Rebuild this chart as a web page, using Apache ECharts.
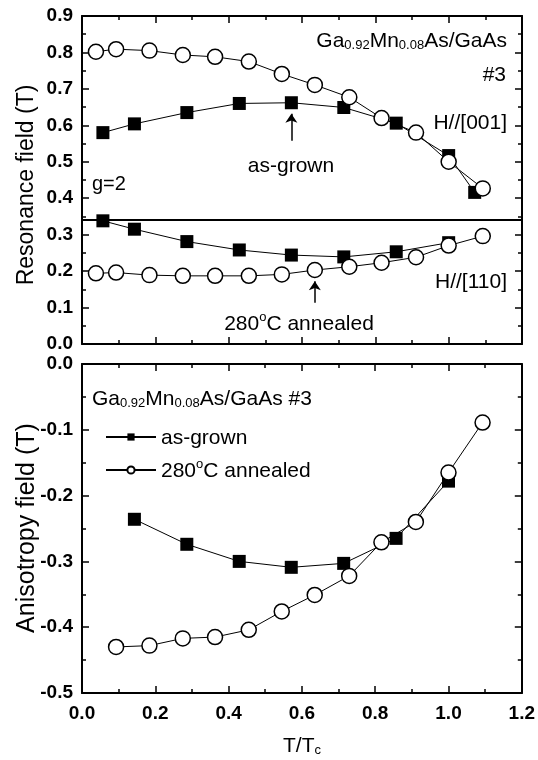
<!DOCTYPE html>
<html>
<head>
<meta charset="utf-8">
<script src="https://cdn.jsdelivr.net/npm/echarts@6/dist/echarts.min.js"></script>
<style>
html,body{margin:0;padding:0;background:#fff;}
#c{width:538px;height:760px;}
</style>
</head>
<body>
<div id="c"></div>
<script>
// ---- data ----
var xTicks = [0.0, 0.2, 0.4, 0.6, 0.8, 1.0, 1.2];
// Top panel: H//[001]
var sq001X = [0.057, 0.143, 0.286, 0.429, 0.571, 0.714, 0.857, 1.0, 1.071];
var sq001Y = [0.580, 0.604, 0.635, 0.660, 0.662, 0.649, 0.606, 0.517, 0.416];
var ci001X = [0.038, 0.093, 0.184, 0.275, 0.363, 0.455, 0.545, 0.635, 0.729, 0.817, 0.911, 1.0, 1.093];
var ci001Y = [0.802, 0.809, 0.805, 0.793, 0.788, 0.775, 0.741, 0.711, 0.677, 0.620, 0.580, 0.500, 0.427];
// Top panel: H//[110]
var sq110X = [0.057, 0.143, 0.286, 0.429, 0.571, 0.714, 0.857, 1.0];
var sq110Y = [0.338, 0.315, 0.281, 0.258, 0.244, 0.239, 0.253, 0.278];
var ci110X = [0.038, 0.093, 0.184, 0.275, 0.363, 0.455, 0.545, 0.635, 0.729, 0.817, 0.911, 1.0, 1.093];
var ci110Y = [0.194, 0.196, 0.189, 0.187, 0.187, 0.187, 0.191, 0.203, 0.212, 0.223, 0.238, 0.270, 0.296];
var gLine = 0.336;
// Bottom panel: anisotropy field
var sqAnX = [0.143, 0.286, 0.429, 0.571, 0.714, 0.857, 1.0];
var sqAnY = [-0.236, -0.274, -0.300, -0.309, -0.303, -0.265, -0.178];
var ciAnX = [0.093, 0.184, 0.275, 0.363, 0.455, 0.545, 0.635, 0.729, 0.817, 0.911, 1.0, 1.093];
var ciAnY = [-0.430, -0.428, -0.417, -0.415, -0.404, -0.376, -0.351, -0.322, -0.271, -0.240, -0.165, -0.089];
// arrows (data coords)
var arrowGrown = [[0.571, 0.558], [0.571, 0.632]];
var arrowAnneal = [[0.635, 0.113], [0.635, 0.172]];

function zip(xs, ys){ return xs.map(function(x,i){ return [x, ys[i]]; }); }

var FONT = '"Liberation Sans", Arial, sans-serif';
var chart = echarts.init(document.getElementById('c'), null, {renderer:'canvas'});

function xAx(grid, pos, showLabel){
  return {
    type:'value', gridIndex:grid, position:pos, min:0, max:1.2, interval:0.2,
    axisLine:{show:true, onZero:false, lineStyle:{color:'#000', width:2}},
    axisTick:{show:true, inside:true, length:7, lineStyle:{color:'#000', width:1.5}},
    minorTick:{show:true, splitNumber:2, length:4, lineStyle:{color:'#000', width:1.5}},
    splitLine:{show:false},
    axisLabel:{show:showLabel, color:'#000', fontSize:19, fontWeight:'bold', fontFamily:FONT, margin:11,
      formatter:function(v){ return v.toFixed(1); }}
  };
}
function yAx(grid, pos, min, max, showLabel){
  return {
    type:'value', gridIndex:grid, position:pos, min:min, max:max, interval:0.1,
    axisLine:{show:true, onZero:false, lineStyle:{color:'#000', width:2}},
    axisTick:{show:true, inside:true, length:7, lineStyle:{color:'#000', width:1.5}},
    minorTick:{show:true, splitNumber:2, length:4, lineStyle:{color:'#000', width:1.5}},
    splitLine:{show:false},
    axisLabel:{show:showLabel, color:'#000', fontSize:19, fontWeight:'bold', fontFamily:FONT, margin:9,
      formatter:function(v){ return v.toFixed(1); }}
  };
}

var sqStyle = {symbol:'rect', symbolSize:13, itemStyle:{color:'#000', borderColor:'#000', borderWidth:0}, lineStyle:{color:'#000', width:1}};
var ciStyle = {symbol:'circle', symbolSize:15, itemStyle:{color:'#fff', borderColor:'#000', borderWidth:1.5}, lineStyle:{color:'#000', width:1}};

function ser(name, xi, yi, data, st, extra){
  var s = {type:'line', name:name, xAxisIndex:xi, yAxisIndex:yi, data:data, showSymbol:true,
    symbol:st.symbol, symbolSize:st.symbolSize, itemStyle:st.itemStyle, lineStyle:st.lineStyle,
    animation:false, silent:true, z:3};
  if (extra) for (var k in extra) s[k] = extra[k];
  return s;
}

function arrowML(a){
  return {silent:true, symbol:['none','arrow'], symbolSize:9, label:{show:false},
    lineStyle:{color:'#000', width:1.5, type:'solid'},
    data:[[{coord:a[0]},{coord:a[1]}]]};
}

var subRich = function(size){
  return {
    n:{fontSize:size, fontFamily:FONT, color:'#000', lineHeight:24, verticalAlign:'bottom'},
    s:{fontSize:13, fontFamily:FONT, color:'#000', lineHeight:7, verticalAlign:'bottom'},
    o:{fontSize:13, fontFamily:FONT, color:'#000', lineHeight:14, verticalAlign:'top'}
  };
};

var option = {
  backgroundColor:'#fff',
  animation:false,
  grid:[
    {left:82, top:16, width:440, height:328},
    {left:82, top:364, width:440, height:329}
  ],
  xAxis:[ xAx(0,'bottom',false), xAx(0,'top',false), xAx(1,'bottom',true), xAx(1,'top',false) ],
  yAxis:[ yAx(0,'left',0,0.9,true), yAx(0,'right',0,0.9,false), yAx(1,'left',-0.5,0,true), yAx(1,'right',-0.5,0,false) ],
  legend:{
    data:['as-grown','280°C annealed'], orient:'vertical', left:100, top:423,
    itemWidth:50, itemHeight:9, itemGap:9,
    textStyle:{fontSize:21, fontFamily:FONT, color:'#000',
      rich:{n:{fontSize:21, fontFamily:FONT, color:'#000', lineHeight:24, verticalAlign:'bottom'},
            o:{fontSize:13, fontFamily:FONT, color:'#000', lineHeight:14, verticalAlign:'top'}}},
    formatter:function(n){ return n === 'as-grown' ? '{n|as-grown}' : '{n|280}{o|o}{n|C annealed}'; },
    selectedMode:false
  },
  series:[
    ser('sq001',0,0, zip(sq001X,sq001Y), sqStyle, {markLine:arrowML(arrowGrown)}),
    ser('ci001',0,0, zip(ci001X,ci001Y), ciStyle),
    ser('sq110',0,0, zip(sq110X,sq110Y), sqStyle, {markLine:{silent:true, symbol:['none','none'], label:{show:false},
        lineStyle:{color:'#000', width:2, type:'solid'}, data:[{yAxis:gLine}]}}),
    ser('ci110',0,0, zip(ci110X,ci110Y), ciStyle, {markLine:arrowML(arrowAnneal)}),
    ser('as-grown',2,2, zip(sqAnX,sqAnY), sqStyle),
    ser('280°C annealed',2,2, zip(ciAnX,ciAnY), ciStyle)
  ],
  graphic:[
    {type:'text', x:507, y:40, style:{text:'{n|Ga}{s|0.92}{n|Mn}{s|0.08}{n|As/GaAs}', rich:subRich(21), textAlign:'right', textVerticalAlign:'middle'}},
    {type:'text', x:506, y:75, style:{text:'#3', font:'21px '+FONT, fill:'#000', textAlign:'right', textVerticalAlign:'middle'}},
    {type:'text', x:507, y:123, style:{text:'H//[001]', font:'21px '+FONT, fill:'#000', textAlign:'right', textVerticalAlign:'middle'}},
    {type:'text', x:291, y:166, style:{text:'as-grown', font:'21px '+FONT, fill:'#000', textAlign:'center', textVerticalAlign:'middle'}},
    {type:'text', x:92, y:184, style:{text:'g=2', font:'20px '+FONT, fill:'#000', textAlign:'left', textVerticalAlign:'middle'}},
    {type:'text', x:507, y:282, style:{text:'H//[110]', font:'21px '+FONT, fill:'#000', textAlign:'right', textVerticalAlign:'middle'}},
    {type:'text', x:299, y:323, style:{text:'{n|280}{o|o}{n|C annealed}', rich:subRich(21), textAlign:'center', textVerticalAlign:'middle'}},
    {type:'text', x:92, y:398, style:{text:'{n|Ga}{s|0.92}{n|Mn}{s|0.08}{n|As/GaAs #3}', rich:subRich(21), textAlign:'left', textVerticalAlign:'middle'}},
    {type:'text', x:302, y:745, style:{text:'{n|T/T}{s|c}', rich:subRich(21), textAlign:'center', textVerticalAlign:'middle'}},
    {type:'text', x:27, y:185, rotation:Math.PI/2, style:{text:'Resonance field (T)', font:'23px '+FONT, fill:'#000', textAlign:'center', textVerticalAlign:'middle'}},
    {type:'text', x:27, y:528, rotation:Math.PI/2, style:{text:'Anisotropy field (T)', font:'25px '+FONT, fill:'#000', textAlign:'center', textVerticalAlign:'middle'}}
  ]
};
chart.setOption(option);
</script>
</body>
</html>
